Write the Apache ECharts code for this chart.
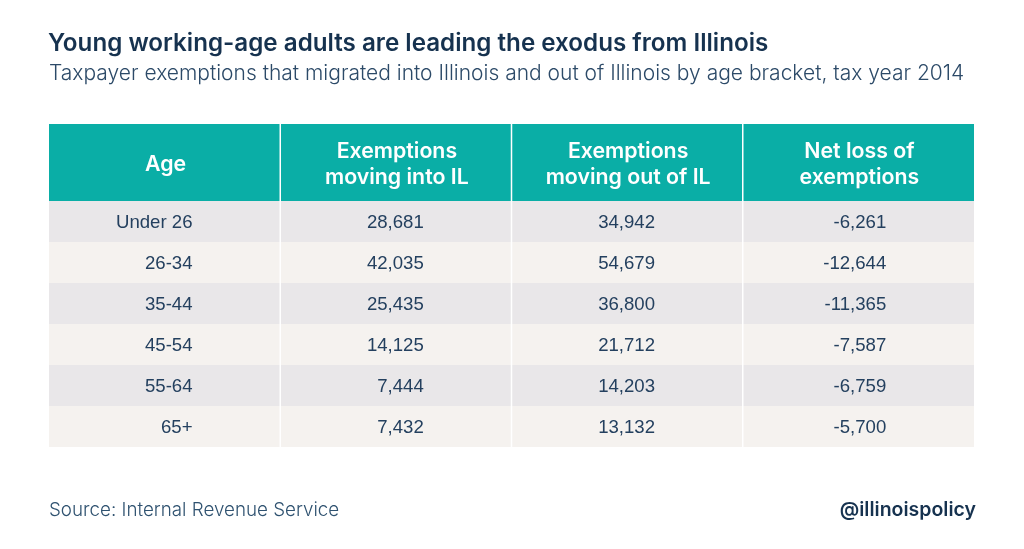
<!DOCTYPE html>
<html>
<head>
<meta charset="utf-8">
<style>html,body{margin:0;background:#fff}#chart{width:1024px;height:549px}</style>
<script src="https://cdn.jsdelivr.net/npm/echarts@6/dist/echarts.min.js"></script>
</head>
<body>
<div id="chart"></div>
<script>
const headers = ['Age', 'Exemptions\nmoving into IL', 'Exemptions\nmoving out of IL', 'Net loss of\nexemptions'];
const ages = ['Under 26', '26-34', '35-44', '45-54', '55-64', '65+'];
const movingIn = [28681, 42035, 25435, 14125, 7444, 7432];
const movingOut = [34942, 54679, 36800, 21712, 14203, 13132];
const netLoss = [-6261, -12644, -11365, -7587, -6759, -5700];

const columns = [0, 1, 2, 3];
const fmt = v => v.toLocaleString('en-US');
const font = 'Inter, "Liberation Sans", sans-serif';
const bodyFont = '"Liberation Sans", sans-serif';

const headerData = headers.map((h, i) => [i, 0, h]);
const bodyData = [];
ages.forEach((a, r) => {
  bodyData.push([0, r, a]);
  bodyData.push([1, r, fmt(movingIn[r])]);
  bodyData.push([2, r, fmt(movingOut[r])]);
  bodyData.push([3, r, fmt(netLoss[r])]);
});

// cell = rect + text, placed through the axes
function cell(params, api, fill, textStyle, textX, textDy) {
  const col = api.value(0), row = api.value(1);
  const c = api.coord([col, row]);
  const s = api.size([1, 1]);
  const left = c[0] - s[0] / 2, top = c[1] - s[1] / 2;
  // white separator straddles the column boundary
  const x0 = col > 0 ? left + 0.75 : left;
  const x1 = col < 3 ? left + s[0] - 0.75 : left + s[0];
  return {
    type: 'group',
    children: [
      { type: 'rect', shape: { x: x0, y: top, width: x1 - x0, height: s[1] }, style: { fill: fill } },
      { type: 'text', style: Object.assign({ x: textX(left, s[0]), y: c[1] + textDy, text: api.value(2), verticalAlign: 'middle' }, textStyle) }
    ]
  };
}

const chart = echarts.init(document.getElementById('chart'), null, { renderer: 'canvas' });
chart.setOption({
  animation: false,
  backgroundColor: '#fff',
  title: [
    { text: 'Young working-age adults are leading the exodus from Illinois', left: 48, top: 32, padding: 0,
      textStyle: { fontFamily: font, fontSize: 24.2, fontWeight: 600, color: '#16324f' } },
    { text: 'Taxpayer exemptions that migrated into Illinois and out of Illinois by age bracket, tax year 2014', left: 49, top: 63, padding: 0,
      textStyle: { fontFamily: font, fontSize: 21, fontWeight: 300, color: '#2c4a68' } },
    { text: 'Source: Internal Revenue Service', left: 49, top: 501, padding: 0,
      textStyle: { fontFamily: font, fontSize: 18.8, fontWeight: 300, color: '#2f5270' } },
    { text: '@illinoispolicy', right: 48, top: 500, padding: 0,
      textStyle: { fontFamily: font, fontSize: 19.5, fontWeight: 600, color: '#16324f' } }
  ],
  grid: [
    { left: 49, top: 124, width: 925, height: 77 },
    { left: 49, top: 201, width: 925, height: 246 }
  ],
  xAxis: [
    { gridIndex: 0, type: 'category', data: columns, show: false },
    { gridIndex: 1, type: 'category', data: columns, show: false }
  ],
  yAxis: [
    { gridIndex: 0, type: 'category', data: ['header'], show: false },
    { gridIndex: 1, type: 'category', data: ages, inverse: true, show: false }
  ],
  series: [
    {
      type: 'custom', xAxisIndex: 0, yAxisIndex: 0, data: headerData, clip: false,
      renderItem: (params, api) => cell(params, api, '#0aaea6',
        { fill: '#fff', fontFamily: font, fontSize: 21.3, fontWeight: 600, align: 'center', lineHeight: 26 },
        (left, w) => left + w / 2 + 1, 2)
    },
    {
      type: 'custom', xAxisIndex: 1, yAxisIndex: 1, data: bodyData, clip: false,
      renderItem: (params, api) => cell(params, api, api.value(1) % 2 ? '#f5f2ef' : '#e9e7e9',
        { fill: '#24405f', fontFamily: bodyFont, fontSize: 18.6, align: 'right' },
        (left) => left + 143.5, 1)
    }
  ]
});
</script>
</body>
</html>
